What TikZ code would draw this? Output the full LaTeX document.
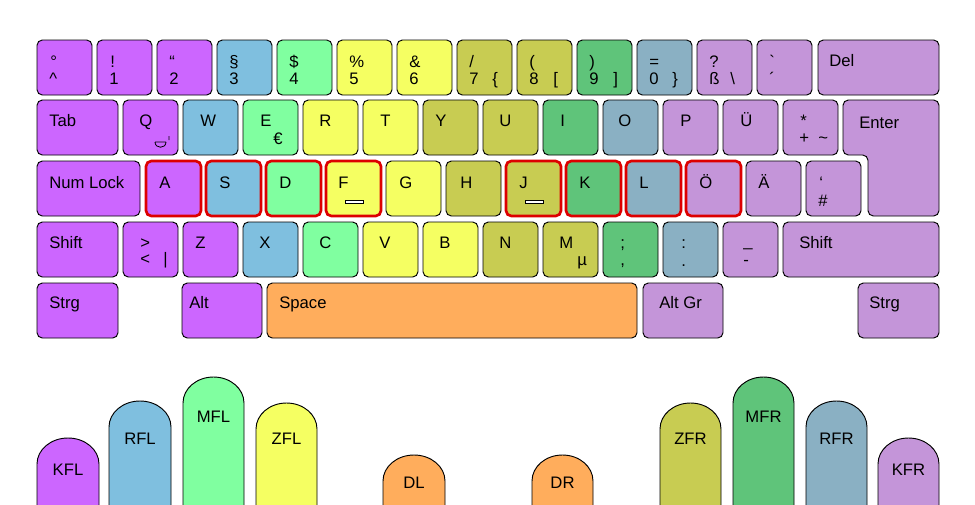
\documentclass[tikz,border=0pt]{standalone}
\usepackage{fontspec}
\setmainfont{Liberation Sans}[Ligatures=TeXOff]
\usetikzlibrary{calc}
\definecolor{cPL}{HTML}{CC66FF}
\definecolor{cPR}{HTML}{C495D9}
\definecolor{cBl}{HTML}{7FBFDF}
\definecolor{cLG}{HTML}{80FFA0}
\definecolor{cYe}{HTML}{F5FF62}
\definecolor{cOl}{HTML}{C8CC52}
\definecolor{cGr}{HTML}{5FC47A}
\definecolor{cGB}{HTML}{8AB0C3}
\definecolor{cOr}{HTML}{FFAD5C}
\definecolor{cRed}{HTML}{DD0000}
\tikzset{
 keybox/.style={draw=black, line width=0.7pt, rounded corners=4pt, anchor=north west,
   minimum height=41.25pt, inner sep=0pt, outer sep=0pt},
 homekey/.style={draw=cRed, line width=2pt},
 lbl/.style={anchor=base west, inner sep=0pt, font=\fontsize{12.5}{14}\selectfont},
 flbl/.style={anchor=center, inner sep=0pt, font=\fontsize{12.5}{14}\selectfont},
 fingerline/.style={draw=black, line width=0.7pt},
 barmark/.style={draw=black, fill=white, line width=0.6pt}
}
\newcommand\kb[5]{\node[keybox,#5,minimum width=#4*0.75pt] (#1) at (#2,#3) {};}
\newcommand\kl[4]{\node[lbl] (#1) at ($(#2.north west)+(#3)$) {#4};}
\newcommand\fingr[4]{%
 \pgfmathsetmacro\fxc{(#1+#2)/2}\pgfmathsetmacro\frx{(#2-#1)/2}%
 \path[fill=#4, fingerline] (#1,506) -- (#1,#3+26)
   .. controls (#1,#3+11.6) and (\fxc-0.552*\frx,#3) .. (\fxc,#3)
   .. controls (\fxc+0.552*\frx,#3) and (#2,#3+11.6) .. (#2,#3+26) -- (#2,506);}
\begin{document}
\begin{tikzpicture}[x=0.75pt,y=-0.75pt]
\useasboundingbox[fill=white] (0,0) rectangle (975,504);
% ---------- row 1
\kb{k1}{37}{40}{55}{fill=cPL}\kl{t1a}{k1}{13,27}{°}\kl{t1b}{k1}{12,44}{\char"5E}
\kb{k2}{97}{40}{55}{fill=cPL}\kl{t2a}{k2}{13,27}{!}\kl{t2b}{k2}{12,44}{1}
\kb{k3}{157}{40}{55}{fill=cPL}\kl{t3a}{k3}{12,27}{“}\kl{t3b}{k3}{12,44}{2}
\kb{k4}{217}{40}{55}{fill=cBl}\kl{t4a}{k4}{12,27}{§}\kl{t4b}{k4}{12,44}{3}
\kb{k5}{277}{40}{55}{fill=cLG}\kl{t5a}{k5}{12,27}{\$}\kl{t5b}{k5}{12,44}{4}
\kb{k6}{337}{40}{55}{fill=cYe}\kl{t6a}{k6}{12,27}{\%}\kl{t6b}{k6}{12,44}{5}
\kb{k7}{397}{40}{55}{fill=cYe}\kl{t7a}{k7}{12,27}{\&}\kl{t7b}{k7}{12,44}{6}
\kb{k8}{457}{40}{55}{fill=cOl}\kl{t8a}{k8}{12,27}{/}\kl{t8b}{k8}{12,44}{7}\kl{t8c}{k8}{35,44}{\{}
\kb{k9}{517}{40}{55}{fill=cOl}\kl{t9a}{k9}{12,27}{(}\kl{t9b}{k9}{12,44}{8}\kl{t9c}{k9}{36,44}{[}
\kb{k10}{577}{40}{55}{fill=cGr}\kl{t10a}{k10}{12,27}{)}\kl{t10b}{k10}{12,44}{9}\kl{t10c}{k10}{36,44}{]}
\kb{k11}{637}{40}{55}{fill=cGB}\kl{t11a}{k11}{12,27}{=}\kl{t11b}{k11}{12,44}{0}\kl{t11c}{k11}{35,44}{\}}
\kb{k12}{697}{40}{55}{fill=cPR}\kl{t12a}{k12}{12,27}{?}\kl{t12b}{k12}{12,44}{ß}\kl{t12c}{k12}{33,44}{\textbackslash}
\kb{k13}{757}{40}{55}{fill=cPR}\kl{t13a}{k13}{12,27}{\char"60}\kl{t13b}{k13}{12,44}{´}
\kb{kDel}{818}{40}{121}{fill=cPR}\kl{tDel}{kDel}{11,26}{Del}
% ---------- row 2
\kb{kTab}{37}{100}{81}{fill=cPL}\kl{tTab}{kTab}{12,26}{Tab}
\kb{kQ}{123}{100}{55}{fill=cPL}\kl{tQ}{kQ}{16,26}{Q}
\kb{kW}{183}{100}{55}{fill=cBl}\kl{tW}{kW}{17,26}{W}
\kb{kE}{243}{100}{55}{fill=cLG}\kl{tE}{kE}{17,26}{E}\kl{tEu}{kE}{30,44}{€}
\kb{kR}{303}{100}{55}{fill=cYe}\kl{tR}{kR}{16,26}{R}
\kb{kT}{363}{100}{55}{fill=cYe}\kl{tT}{kT}{17,26}{T}
\kb{kY}{423}{100}{55}{fill=cOl}\kl{tY}{kY}{12,26}{Y}
\kb{kU}{483}{100}{55}{fill=cOl}\kl{tU}{kU}{16,26}{U}
\kb{kI}{543}{100}{55}{fill=cGr}\kl{tI}{kI}{17,26}{I}
\kb{kO}{603}{100}{55}{fill=cGB}\kl{tO}{kO}{15,26}{O}
\kb{kP}{663}{100}{55}{fill=cPR}\kl{tP}{kP}{17,26}{P}
\kb{kUe}{723}{100}{55}{fill=cPR}\kl{tUe}{kUe}{17,26}{Ü}
\kb{kPl}{783}{100}{55}{fill=cPR}\kl{tPla}{kPl}{17,26}{*}\kl{tPlb}{kPl}{16,43}{+}\kl{tPlc}{kPl}{35,43}{\char"7E}
\draw[line width=0.7pt, fill=cPR, rounded corners=4pt] (843,100) -- (939,100) -- (939,216)
  -- (868,216) -- (868,155) -- (843,155) -- cycle;
\node[lbl] (tEnter) at (859,128) {Enter};
% smile mark on Q
\draw[line width=0.6pt] (155,142) -- (166,142) (155,142) .. controls (155,149) and (166,149) .. (166,142)
  (169,136) -- (169,140);
% ---------- row 3
\kb{kNum}{37}{161}{103}{fill=cPL}\kl{tNum}{kNum}{12,27}{Num Lock}
\kb{kA}{146}{161}{55}{fill=cPL,homekey}\kl{tA}{kA}{13,27}{A}
\kb{kS}{206}{161}{55}{fill=cBl,homekey}\kl{tS}{kS}{13,27}{S}
\kb{kD}{266}{161}{55}{fill=cLG,homekey}\kl{tD}{kD}{13,27}{D}
\kb{kF}{326}{161}{55}{fill=cYe,homekey}\kl{tF}{kF}{12,27}{F}
\kb{kG}{386}{161}{55}{fill=cYe}\kl{tG}{kG}{13,27}{G}
\kb{kH}{446}{161}{55}{fill=cOl}\kl{tH}{kH}{14,27}{H}
\kb{kJ}{506}{161}{55}{fill=cOl,homekey}\kl{tJ}{kJ}{13,27}{J}
\kb{kK}{566}{161}{55}{fill=cGr,homekey}\kl{tK}{kK}{13,27}{K}
\kb{kL}{626}{161}{55}{fill=cGB,homekey}\kl{tL}{kL}{13,27}{L}
\kb{kOe}{686}{161}{55}{fill=cPR,homekey}\kl{tOe}{kOe}{13,27}{Ö}
\kb{kAe}{746}{161}{55}{fill=cPR}\kl{tAe}{kAe}{12,27}{Ä}
\kb{kHa}{806}{161}{55}{fill=cPR}\kl{tHaa}{kHa}{13,27}{‘}\kl{tHab}{kHa}{12,45}{\#}
\draw[barmark] ($(kF.north west)+(19,39)$) rectangle ($(kF.north west)+(37,42)$);
\draw[barmark] ($(kJ.north west)+(19,39)$) rectangle ($(kJ.north west)+(37,42)$);
% ---------- row 4
\kb{kShL}{37}{222}{81}{fill=cPL}\kl{tShL}{kShL}{12,26}{Shift}
\kb{kLt}{123}{222}{55}{fill=cPL}\kl{tLta}{kLt}{17,26}{>}\kl{tLtb}{kLt}{17,42}{<}\kl{tLtc}{kLt}{40,42}{|}
\kb{kZ}{183}{222}{55}{fill=cPL}\kl{tZ}{kZ}{12,26}{Z}
\kb{kX}{243}{222}{55}{fill=cBl}\kl{tX}{kX}{16,26}{X}
\kb{kC}{303}{222}{55}{fill=cLG}\kl{tC}{kC}{16,26}{C}
\kb{kV}{363}{222}{55}{fill=cYe}\kl{tV}{kV}{16,26}{V}
\kb{kB}{423}{222}{55}{fill=cYe}\kl{tB}{kB}{16,26}{B}
\kb{kN}{483}{222}{55}{fill=cOl}\kl{tN}{kN}{16,26}{N}
\kb{kM}{543}{222}{55}{fill=cOl}\kl{tM}{kM}{16,26}{M}\kl{tMu}{kM}{34,43}{µ}
\kb{kSc}{603}{222}{55}{fill=cGr}\kl{tSca}{kSc}{17,26}{;}\kl{tScb}{kSc}{17,43}{,}
\kb{kCo}{663}{222}{55}{fill=cGB}\kl{tCoa}{kCo}{18,26}{:}\kl{tCob}{kCo}{18,44}{.}
\kb{kUs}{723}{222}{55}{fill=cPR}\kl{tUsa}{kUs}{20,24}{\_}\kl{tUsb}{kUs}{20,43}{-}
\kb{kShR}{783}{222}{156}{fill=cPR}\kl{tShR}{kShR}{16,26}{Shift}
% ---------- row 5
\kb{kStL}{37}{283}{81}{fill=cPL}\kl{tStL}{kStL}{12,25}{Strg}
\kb{kAlt}{182}{283}{80}{fill=cPL}\kl{tAlt}{kAlt}{7,25}{Alt}
\kb{kSp}{267}{283}{370}{fill=cOr}\kl{tSp}{kSp}{12,25}{Space}
\kb{kAG}{643}{283}{80}{fill=cPR}\kl{tAG}{kAG}{16,25}{Alt Gr}
\kb{kStR}{858}{283}{81}{fill=cPR}\kl{tStR}{kStR}{11,25}{Strg}
% ---------- fingers
\fingr{37}{99}{438}{cPL}
\fingr{109}{171}{401}{cBl}
\fingr{183}{244}{377}{cLG}
\fingr{256}{317}{403}{cYe}
\fingr{383}{445}{455}{cOr}
\fingr{532}{593}{455}{cOr}
\fingr{660}{721}{403}{cOl}
\fingr{733}{794}{377}{cGr}
\fingr{806}{867}{401}{cGB}
\fingr{878}{939}{438}{cPR}
\node[flbl] (fKFL) at (68,470) {KFL};
\node[flbl] (fRFL) at (140,439) {RFL};
\node[flbl] (fMFL) at (213.5,417) {MFL};
\node[flbl] (fZFL) at (286.5,439) {ZFL};
\node[flbl] (fDL) at (414,483) {DL};
\node[flbl] (fDR) at (562.5,483) {DR};
\node[flbl] (fZFR) at (690.5,439) {ZFR};
\node[flbl] (fMFR) at (763.5,417) {MFR};
\node[flbl] (fRFR) at (836.5,439) {RFR};
\node[flbl] (fKFR) at (908.5,470) {KFR};
\end{tikzpicture}
\end{document}
